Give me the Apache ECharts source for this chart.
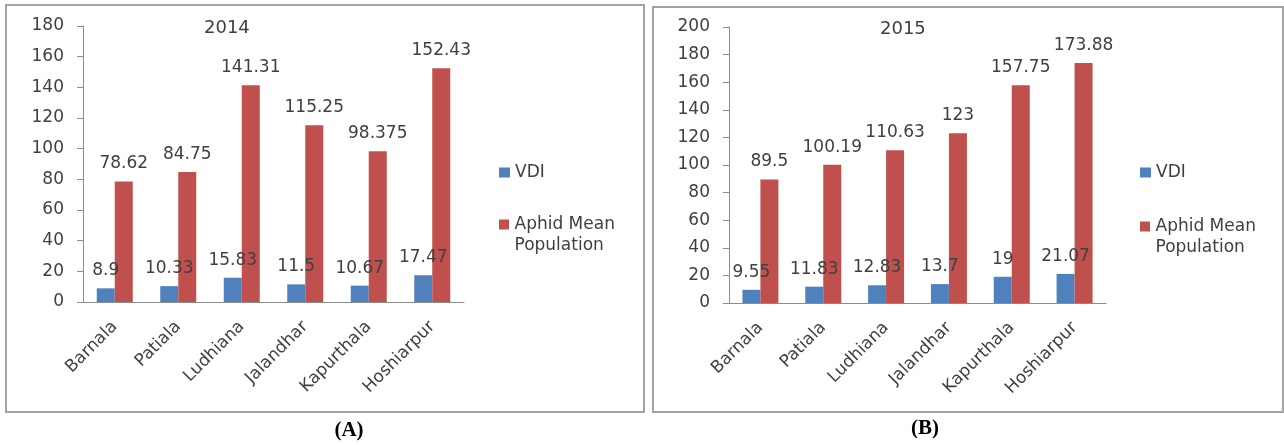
<!DOCTYPE html>
<html>
<head>
<meta charset="utf-8">
<script src="https://cdn.jsdelivr.net/npm/echarts@6/dist/echarts.min.js"></script>
<style>
  html, body { margin: 0; padding: 0; background: #fff; }
  #chart { width: 1284px; height: 445px; }
</style>
</head>
<body>
<div id="chart"></div>
<script>
// Districts of Punjab surveyed in both seasons
const categories = ['Barnala', 'Patiala', 'Ludhiana', 'Jalandhar', 'Kapurthala', 'Hoshiarpur'];

// 2014 season
const vdi2014 = [8.9, 10.33, 15.83, 11.5, 10.67, 17.47];
const aphid2014 = [78.62, 84.75, 141.31, 115.25, 98.375, 152.43];

// 2015 season
const vdi2015 = [9.55, 11.83, 12.83, 13.7, 19, 21.07];
const aphid2015 = [89.5, 100.19, 110.63, 123, 157.75, 173.88];

const seriesNames = ['VDI', 'Aphid Mean Population'];
const panelTitles = ['2014', '2015'];
const panelCaptions = ['(A)', '(B)'];

const FONT = 'DejaVu Sans';
const TEXT = '#404040';
const AXIS = '#8c8c8c';
const BLUE = '#4F81BD';
const RED = '#C0504D';

const chart = echarts.init(document.getElementById('chart'), null, { renderer: 'canvas' });

function xAxisFor(gridIndex) {
  return {
    type: 'category', gridIndex, data: categories,
    axisLine: { lineStyle: { color: AXIS, width: 1 } },
    axisTick: { length: 6, lineStyle: { color: AXIS } },
    axisLabel: { rotate: 45, margin: 22, color: TEXT, fontFamily: FONT, fontSize: 17 }
  };
}
function yAxisFor(gridIndex, max) {
  return {
    type: 'value', gridIndex, min: 0, max, interval: 20,
    axisLine: { show: true, lineStyle: { color: AXIS, width: 1 } },
    axisTick: { show: true, length: 6, lineStyle: { color: AXIS } },
    splitLine: { show: false },
    axisLabel: { margin: 19, color: TEXT, fontFamily: FONT, fontSize: 17 }
  };
}
function barSeries(name, data, idx, color) {
  return {
    name, type: 'bar', data, xAxisIndex: idx, yAxisIndex: idx,
    barWidth: 18, barGap: '0%',
    itemStyle: { color },
    label: { show: true, position: 'top', distance: 9, color: TEXT, fontFamily: FONT, fontSize: 17 }
  };
}
// Legend helper: the taller second entry keeps its swatch beside the first text line
function legendPair(left, topVdi, topAphid) {
  const txt = { color: TEXT, fontFamily: FONT, fontSize: 17, lineHeight: 21 };
  return [
    { left, top: topVdi, orient: 'vertical', padding: 0, itemWidth: 11, itemHeight: 10, itemGap: 0,
      data: [{ name: seriesNames[0], icon: 'rect' }], textStyle: txt },
    { left, top: topAphid, orient: 'vertical', padding: 0, itemWidth: 11, itemHeight: 31, itemGap: 0,
      data: [{ name: seriesNames[1], icon: 'path://M0,0L10,0L10,10L0,10Z M0,31L0.01,31Z' }],
      formatter: () => 'Aphid Mean\nPopulation', textStyle: txt }
  ];
}

const option = {
  animation: false,
  backgroundColor: '#ffffff',
  title: [
    { text: panelTitles[0], left: 204, top: 19, padding: 0, textStyle: { color: TEXT, fontFamily: FONT, fontSize: 18, fontWeight: 'normal' } },
    { text: panelTitles[1], left: 880, top: 20, padding: 0, textStyle: { color: TEXT, fontFamily: FONT, fontSize: 18, fontWeight: 'normal' } }
  ],
  legend: [].concat(legendPair(499, 162, 214), legendPair(1140, 162, 216)),
  grid: [
    { left: 83, top: 26, width: 381, height: 276 },
    { left: 729, top: 27, width: 377, height: 276 }
  ],
  xAxis: [xAxisFor(0), xAxisFor(1)],
  yAxis: [yAxisFor(0, 180), yAxisFor(1, 200)],
  series: [
    barSeries(seriesNames[0], vdi2014, 0, BLUE),
    barSeries(seriesNames[1], aphid2014, 0, RED),
    barSeries(seriesNames[0], vdi2015, 1, BLUE),
    barSeries(seriesNames[1], aphid2015, 1, RED)
  ],
  graphic: [
    { type: 'rect', shape: { x: 6, y: 5, width: 638, height: 407 }, silent: true, z: -10,
      style: { fill: 'none', stroke: '#a3a3a3', lineWidth: 2 } },
    { type: 'rect', shape: { x: 653, y: 7, width: 630, height: 405 }, silent: true, z: -10,
      style: { fill: 'none', stroke: '#a3a3a3', lineWidth: 2 } },
    { type: 'text', x: 349, y: 431, silent: true,
      style: { text: panelCaptions[0], fill: '#000', font: 'bold 21px "Liberation Serif"', textAlign: 'center', textVerticalAlign: 'middle' } },
    { type: 'text', x: 925, y: 429, silent: true,
      style: { text: panelCaptions[1], fill: '#000', font: 'bold 21px "Liberation Serif"', textAlign: 'center', textVerticalAlign: 'middle' } }
  ]
};

chart.setOption(option);
</script>
</body>
</html>
